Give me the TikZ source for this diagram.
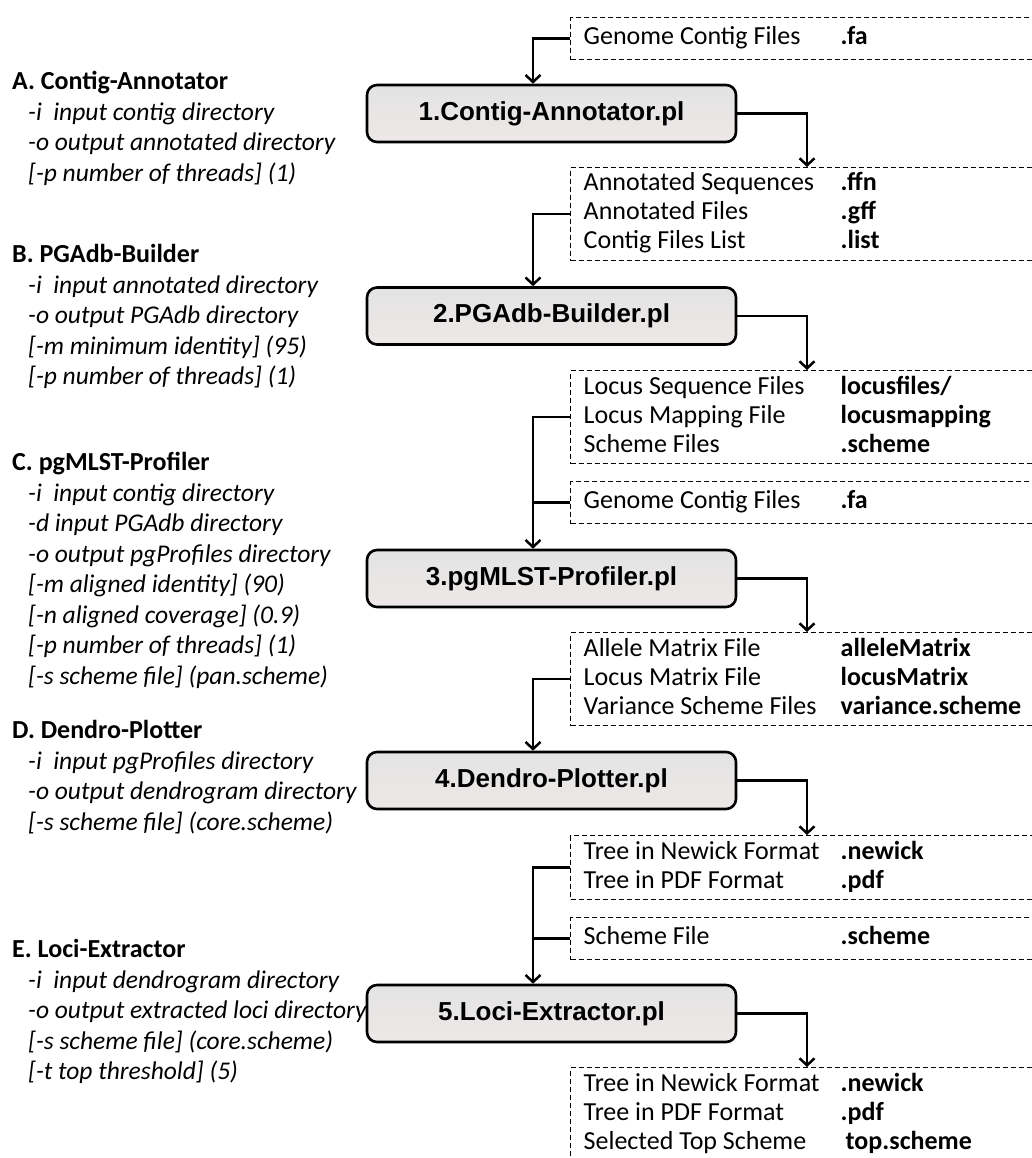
\documentclass[tikz,border=0pt]{standalone}
\usepackage{fontspec}
\setmainfont{Carlito}
\newfontfamily\arialfont{Liberation Sans}
\usetikzlibrary{positioning,arrows.meta}
\definecolor{procgray}{HTML}{E3E3E3}
\definecolor{procpink}{HTML}{EEE8E8}
\newcommand{\frow}[2]{\makebox[257pt][l]{\strut #1}\textbf{#2}}
\newcommand{\opt}[1]{\\\hspace*{16pt}\textit{#1}}
\newcommand{\head}[1]{\strut{\fontsize{26}{30.5}\selectfont\textbf{#1}}}

\begin{document}
\begin{tikzpicture}[x=1pt, y=-1pt,
   proc/.style={draw, line width=2.6pt, rounded corners=10pt, top color=procgray,
                bottom color=procpink, minimum width=369pt, minimum height=57pt,
                font=\arialfont\bfseries\fontsize{26}{30}\selectfont},
   files/.style={draw, line width=1.4pt, dash pattern=on 5pt off 3pt,
                 anchor=north west, text width=454pt, minimum height=42pt,
                 inner xsep=13pt, inner ysep=3pt, align=flush left,
                 font=\fontsize{26}{29}\selectfont},
   desc/.style={anchor=north west, inner sep=0pt, align=left,
                font=\fontsize{25.5}{30.5}\selectfont},
   link/.style={line width=2.5pt},
   >={Straight Barb[length=7pt, width=15pt]}]
  \useasboundingbox (0,0) rectangle (1032,1158);
  \clip (0,0) rectangle (1032,1158);

  % usage of each script
  \node[desc] (descA) at (12,68) {\head{A. Contig-Annotator}
    \opt{-i\ \ input contig directory}
    \opt{-o output annotated directory}
    \opt{[-p number of threads] (1)}};
  \node[desc] (descB) at (12,241) {\head{B. PGAdb-Builder}
    \opt{-i\ \ input annotated directory}
    \opt{-o output PGAdb directory}
    \opt{[-m minimum identity] (95)}
    \opt{[-p number of threads] (1)}};
  \node[desc] (descC) at (12,449) {\head{C. pgMLST-Profiler}
    \opt{-i\ \ input contig directory}
    \opt{-d input PGAdb directory}
    \opt{-o output pgProfiles directory}
    \opt{[-m aligned identity] (90)}
    \opt{[-n aligned coverage] (0.9)}
    \opt{[-p number of threads] (1)}
    \opt{[-s scheme file] (pan.scheme)}};
  \node[desc] (descD) at (12,717) {\head{D. Dendro-Plotter}
    \opt{-i\ \ input pgProfiles directory}
    \opt{-o output dendrogram directory}
    \opt{[-s scheme file] (core.scheme)}};
  \node[desc] (descE) at (12,936) {\head{E. Loci-Extractor}
    \opt{-i\ \ input dendrogram directory}
    \opt{-o output extracted loci directory}
    \opt{[-s scheme file] (core.scheme)}
    \opt{[-t top threshold] (5)}};

  % pipeline
  \node[proc] (annot) at (551.5,113.5) {1.Contig-Annotator.pl};
  \node[proc] (builder) at (551.5,316) {2.PGAdb-Builder.pl};
  \node[proc] (profiler) at (551.5,578.5) {3.pgMLST-Profiler.pl};
  \node[proc] (plotter) at (551.5,780.5) {4.Dendro-Plotter.pl};
  \node[proc] (extractor) at (551.5,1013.5) {5.Loci-Extractor.pl};

  % input / output files
  \node[files] (fa1) at (570,17) {\frow{Genome Contig Files}{.fa}};
  \node[files] (ffn) at (570,167) {\frow{Annotated Sequences}{.ffn}\\
    \frow{Annotated Files}{.gff}\\ \frow{Contig Files List}{.list}};
  \node[files] (locus) at (570,370) {\frow{Locus Sequence Files}{locusfiles/}\\
    \frow{Locus Mapping File}{locusmapping}\\ \frow{Scheme Files}{.scheme}};
  \node[files] (fa2) at (570,481) {\frow{Genome Contig Files}{.fa}};
  \node[files] (matrix) at (570,632) {\frow{Allele Matrix File}{alleleMatrix}\\
    \frow{Locus Matrix File}{locusMatrix}\\
    \frow{Variance Scheme Files}{variance.scheme}};
  \node[files] (tree) at (570,835) {\frow{Tree in Newick Format}{.newick}\\
    \frow{Tree in PDF Format}{.pdf}};
  \node[files] (scheme) at (570,917) {\frow{Scheme File}{.scheme}};
  \node[files] (top) at (570,1067) {\frow{Tree in Newick Format}{.newick}\\
    \frow{Tree in PDF Format}{.pdf}\\
    \frow{Selected Top Scheme}{\hspace{5pt}top.scheme}};

  \coordinate (in1) at ([xshift=-18.5pt]annot.north);
  \coordinate (in2) at ([xshift=-18.5pt]builder.north);
  \coordinate (in3) at ([xshift=-18.5pt]profiler.north);
  \coordinate (in4) at ([xshift=-18.5pt]plotter.north);
  \coordinate (in5) at ([xshift=-18.5pt]extractor.north);

  \draw[link,->] (fa1.west) -| (in1);
  \draw[link,->] (annot.east) -| ([xshift=237pt]ffn.north west);
  \draw[link,->] (ffn.west) -| (in2);
  \draw[link,->] (builder.east) -| ([xshift=237pt]locus.north west);
  \draw[link,->] (locus.west) -| (in3);
  \draw[link] (fa2.west) -- (fa2.west -| in3);
  \draw[link,->] (profiler.east) -| ([xshift=237pt]matrix.north west);
  \draw[link,->] (matrix.west) -| (in4);
  \draw[link,->] (plotter.east) -| ([xshift=237pt]tree.north west);
  \draw[link,->] (tree.west) -| (in5);
  \draw[link] (scheme.west) -- (scheme.west -| in5);
  \draw[link,->] (extractor.east) -| ([xshift=237pt]top.north west);
\end{tikzpicture}
\end{document}
